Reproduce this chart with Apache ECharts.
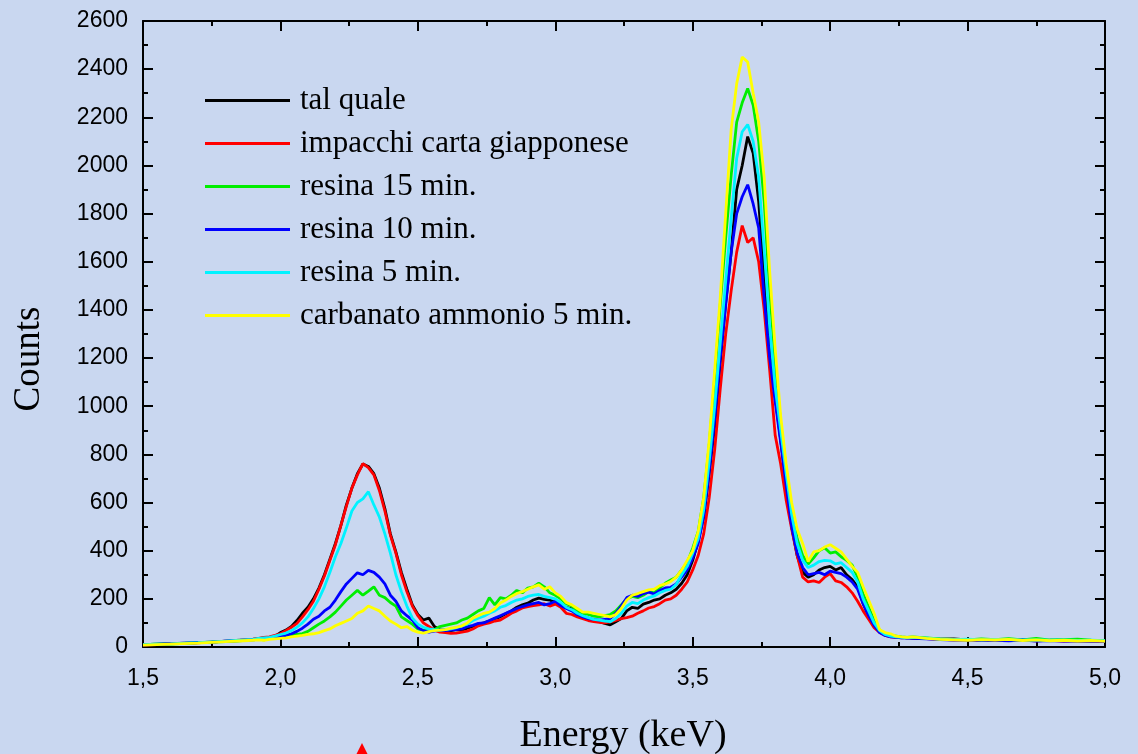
<!DOCTYPE html>
<html>
<head>
<meta charset="utf-8">
<script src="https://cdn.jsdelivr.net/npm/echarts@6/dist/echarts.min.js"></script>
<style>
  html, body { margin: 0; padding: 0; background: #c9d7f0; }
  #chart { width: 1138px; height: 754px; }
</style>
</head>
<body>
<div id="chart"></div>
<script>
// Energy grid (keV): coarse on the flat tails, 0.02 keV through the peaks
const energy = [
  1.50, 1.55, 1.60, 1.65, 1.70, 1.75, 1.80, 1.85, 1.90,
  1.92, 1.94, 1.96, 1.98, 2.00, 2.02, 2.04, 2.06, 2.08, 2.10,
  2.12, 2.14, 2.16, 2.18, 2.20, 2.22, 2.24, 2.26, 2.28, 2.30,
  2.32, 2.34, 2.36, 2.38, 2.40, 2.42, 2.44, 2.46, 2.48, 2.50,
  2.52, 2.54, 2.56, 2.58, 2.60, 2.62, 2.64, 2.66, 2.68, 2.70,
  2.72, 2.74, 2.76, 2.78, 2.80, 2.82, 2.84, 2.86, 2.88, 2.90,
  2.92, 2.94, 2.96, 2.98, 3.00, 3.02, 3.04, 3.06, 3.08, 3.10,
  3.12, 3.14, 3.16, 3.18, 3.20, 3.22, 3.24, 3.26, 3.28, 3.30,
  3.32, 3.34, 3.36, 3.38, 3.40, 3.42, 3.44, 3.46, 3.48, 3.50,
  3.52, 3.54, 3.56, 3.58, 3.60, 3.62, 3.64, 3.66, 3.68, 3.70,
  3.72, 3.74, 3.76, 3.78, 3.80, 3.82, 3.84, 3.86, 3.88, 3.90,
  3.92, 3.94, 3.96, 3.98, 4.00, 4.02, 4.04, 4.06, 4.08, 4.10,
  4.12, 4.14, 4.16, 4.18, 4.20, 4.22, 4.24, 4.26, 4.28, 4.30,
  4.35, 4.40, 4.45, 4.50, 4.55, 4.60, 4.65, 4.70, 4.75, 4.80, 4.85, 4.90, 4.95, 5.00
];

// Counts per spectrum, one value per energy above
const talQuale = [
  10, 12, 14, 15, 18, 20, 24, 27, 32,
  35, 38, 36, 44, 60, 70, 85, 110, 140, 165,
  200, 245, 300, 365, 430, 505, 590, 660, 720, 760,
  750, 720, 660, 575, 470, 395, 310, 240, 175, 135,
  112, 120, 85, 72, 70, 68, 72, 70, 78, 85,
  95, 100, 108, 118, 125, 138, 150, 165, 175, 182,
  195, 203, 198, 195, 185, 175, 165, 158, 140, 128,
  120, 112, 105, 98, 92, 105, 118, 150, 165, 160,
  178, 185, 195, 200, 215, 225, 240, 265, 300, 360,
  440, 540, 720, 920, 1180, 1430, 1640, 1900, 2000, 2120,
  2050, 1850, 1530, 1220, 1040, 860, 680, 500, 380, 310,
  290, 300, 320, 330, 335, 320, 330, 300, 280, 250,
  180, 130, 90, 65, 50, 45, 42, 40, 38, 40,
  36, 33, 34, 30, 31, 29, 30, 32, 28, 27, 29, 26, 27, 25
];
const impacchi = [
  8, 10, 13, 16, 17, 21, 23, 28, 33,
  36, 40, 42, 48, 55, 68, 82, 98, 125, 155,
  190, 240, 295, 360, 425, 505, 585, 660, 715, 762,
  745, 715, 650, 565, 465, 390, 300, 230, 170, 130,
  100, 85, 70, 62, 60, 57, 58, 62, 66, 75,
  88, 95, 100, 108, 112, 125, 140, 150, 162, 168,
  172, 175, 180, 170, 178, 165, 140, 135, 125, 118,
  110, 105, 102, 100, 104, 110, 118, 122, 128, 140,
  150, 162, 168, 180, 195, 200, 215, 240, 270, 320,
  380, 470, 620, 820, 1070, 1300, 1480, 1640, 1750, 1680,
  1700, 1600, 1400, 1150, 880, 760, 610, 490, 380, 290,
  270, 275, 268, 290, 305, 275, 268, 250, 225, 190,
  150, 115, 80, 60, 48, 42, 40, 38, 40, 36,
  35, 32, 30, 31, 28, 30, 27, 29, 26, 28, 25, 27, 24, 23
];
const resina15 = [
  10, 12, 12, 15, 18, 20, 22, 26, 30,
  32, 30, 35, 38, 40, 44, 48, 52, 56, 65,
  80, 95, 108, 125, 145, 170, 195, 215, 235, 215,
  232, 250, 215, 205, 185, 170, 125, 110, 95, 75,
  70, 68, 72, 85, 90, 95, 100, 112, 120, 135,
  150, 160, 205, 175, 205, 200, 215, 235, 225, 245,
  250, 265, 250, 225, 215, 200, 180, 170, 150, 140,
  135, 128, 125, 130, 135, 150, 175, 200, 210, 205,
  215, 230, 225, 245, 265, 278, 290, 320, 350, 410,
  480, 620, 840, 1120, 1420, 1700, 1960, 2180, 2260, 2320,
  2250, 2100, 1850, 1480, 1180, 930, 740, 570, 450, 380,
  345, 370, 400, 412, 390, 395, 375, 360, 340, 290,
  220, 165, 110, 70, 55, 48, 45, 42, 40, 42,
  38, 34, 32, 30, 34, 31, 35, 30, 36, 29, 31, 33, 28, 27
];
const resina10 = [
  9, 11, 14, 16, 18, 20, 24, 27, 30,
  32, 34, 36, 38, 42, 48, 55, 65, 78, 95,
  115, 128, 150, 165, 195, 230, 262, 285, 308, 300,
  318, 310, 290, 262, 215, 190, 150, 130, 112, 80,
  68, 62, 66, 70, 68, 70, 72, 75, 85, 90,
  98, 100, 110, 120, 130, 140, 150, 160, 168, 175,
  180, 185, 175, 180, 190, 172, 160, 150, 135, 125,
  118, 115, 112, 115, 118, 140, 170, 205, 215, 210,
  222, 228, 220, 235, 245, 248, 262, 290, 320, 370,
  430, 545, 730, 950, 1200, 1420, 1640, 1800, 1870, 1920,
  1840, 1740, 1450, 1200, 1020, 850, 670, 500, 390, 330,
  300, 305, 310, 300, 315, 310, 305, 290, 270, 240,
  180, 130, 90, 60, 48, 42, 40, 38, 37, 36,
  34, 31, 29, 30, 27, 28, 26, 29, 25, 27, 24, 26, 23, 24
];
const resina5 = [
  10, 12, 13, 16, 18, 21, 24, 28, 32,
  36, 38, 40, 45, 52, 58, 68, 82, 100, 125,
  160, 200, 250, 310, 375, 430, 495, 565, 600, 615,
  645, 590, 540, 470, 390, 300, 230, 170, 120, 95,
  82, 75, 72, 70, 72, 75, 80, 88, 95, 110,
  120, 128, 140, 150, 165, 172, 185, 195, 200, 210,
  215, 218, 210, 205, 200, 185, 165, 155, 140, 130,
  122, 115, 112, 108, 105, 118, 140, 170, 185, 180,
  195, 205, 212, 225, 235, 240, 260, 300, 335, 390,
  450, 570, 770, 1000, 1260, 1520, 1780, 2030, 2140, 2170,
  2100, 1950, 1650, 1330, 1080, 900, 720, 550, 430, 360,
  330, 340, 355, 360, 358, 345, 350, 330, 310, 270,
  200, 150, 100, 68, 52, 45, 42, 40, 39, 40,
  37, 33, 31, 33, 30, 32, 31, 29, 30, 28, 29, 27, 28, 26
];
const carbanato = [
  8, 10, 12, 14, 16, 19, 22, 25, 28,
  30, 28, 32, 34, 36, 38, 42, 45, 48, 52,
  55, 60, 68, 75, 88, 98, 108, 118, 140, 150,
  170, 160, 150, 128, 108, 95, 80, 85, 70, 62,
  58, 64, 68, 70, 72, 78, 82, 88, 100, 120,
  130, 140, 145, 160, 183, 195, 210, 222, 230, 240,
  250, 258, 240, 250, 225, 210, 185, 175, 160, 145,
  145, 140, 135, 130, 125, 135, 160, 195, 215, 222,
  230, 237, 240, 255, 262, 272, 290, 320, 360, 400,
  480, 620, 860, 1150, 1450, 1800, 2150, 2340, 2450, 2430,
  2300, 2180, 1950, 1560, 1240, 960, 760, 600, 490, 430,
  355, 395, 400, 415, 425, 410, 395, 365, 335, 310,
  250, 195, 140, 72, 60, 55, 45, 42, 40, 42,
  36, 32, 30, 28, 31, 29, 32, 27, 30, 26, 28, 25, 27, 24
];

const seriesNames = [
  'tal quale',
  'impacchi carta giapponese',
  'resina 15 min.',
  'resina 10 min.',
  'resina 5 min.',
  'carbanato ammonio 5 min.'
];
const seriesValues = [talQuale, impacchi, resina15, resina10, resina5, carbanato];
const seriesColors = ['#000000', '#ff0000', '#00ee00', '#0000ff', '#00f2ff', '#ffff00'];

const chart = echarts.init(document.getElementById('chart'), null, { renderer: 'canvas' });

const axisLineStyle = { color: '#000', width: 2 };
const commaLabel = v => v.toFixed(1).replace('.', ',');
const plainLabel = v => String(v);

function xAxisDef(pos, showLabel) {
  return {
    type: 'value', position: pos, min: 1.5, max: 5, interval: 0.5,
    axisLine: { show: true, onZero: false, lineStyle: axisLineStyle },
    axisTick: { show: true, inside: true, length: 10, lineStyle: axisLineStyle },
    minorTick: { show: true, splitNumber: 2, length: 5, lineStyle: axisLineStyle },
    splitLine: { show: false },
    axisLabel: {
      show: showLabel, margin: 20, fontSize: 23, color: '#000',
      fontFamily: 'Liberation Sans, Arial, sans-serif', formatter: commaLabel
    }
  };
}
function yAxisDef(pos, showLabel) {
  return {
    type: 'value', position: pos, min: 0, max: 2600, interval: 200,
    axisLine: { show: true, onZero: false, lineStyle: axisLineStyle },
    axisTick: { show: true, inside: true, length: 10, lineStyle: axisLineStyle },
    minorTick: { show: true, splitNumber: 2, length: 5, lineStyle: axisLineStyle },
    splitLine: { show: false },
    axisLabel: {
      show: showLabel, margin: 15, fontSize: 23, color: '#000',
      fontFamily: 'Liberation Sans, Arial, sans-serif', formatter: plainLabel
    }
  };
}

chart.setOption({
  animation: false,
  backgroundColor: '#c9d7f0',
  grid: { left: 143, right: 33, top: 21, bottom: 107, containLabel: false },
  xAxis: [xAxisDef('bottom', true), xAxisDef('top', false)],
  yAxis: [yAxisDef('left', true), yAxisDef('right', false)],
  legend: {
    data: seriesNames,
    orient: 'vertical',
    left: 205, top: 85, padding: 0,
    icon: 'rect',
    itemWidth: 85, itemHeight: 3, itemGap: 12,
    textStyle: {
      fontFamily: 'Liberation Serif, Times New Roman, serif',
      fontSize: 31, lineHeight: 30, color: '#000', padding: [0, 0, 0, 5]
    }
  },
  series: seriesNames.map((name, k) => ({
    name: name,
    type: 'line',
    xAxisIndex: 0, yAxisIndex: 0,
    symbol: 'none', showSymbol: false,
    color: seriesColors[k],
    lineStyle: { color: seriesColors[k], width: 2.8 },
    data: energy.map((e, i) => [e, seriesValues[k][i]])
  })),
  graphic: [
    {
      type: 'text', x: 623, y: 736,
      style: {
        text: 'Energy (keV)', fill: '#000', align: 'center', verticalAlign: 'middle',
        font: '38px "Liberation Serif", "Times New Roman", serif'
      }
    },
    {
      type: 'text', x: 29, y: 359, rotation: Math.PI / 2,
      style: {
        text: 'Counts', fill: '#000', align: 'center', verticalAlign: 'middle',
        font: '37px "Liberation Serif", "Times New Roman", serif'
      }
    },
    {
      type: 'polygon',
      shape: { points: [[356, 755], [362, 743], [368, 755]] },
      style: { fill: '#ff0000' }
    }
  ]
});
</script>
</body>
</html>
